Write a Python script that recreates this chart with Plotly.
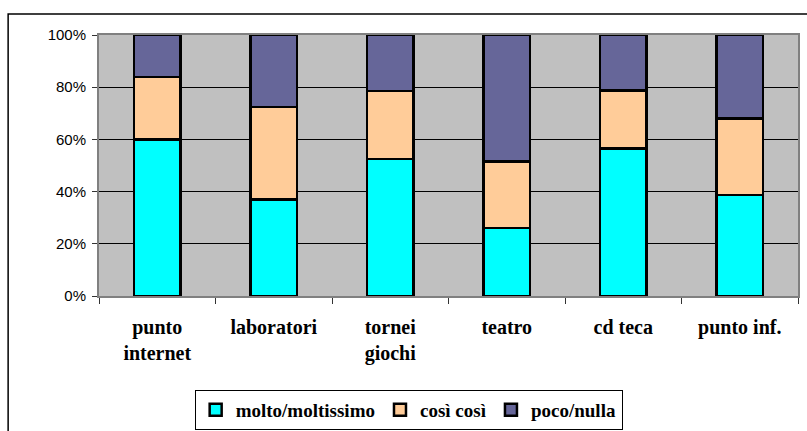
import plotly.graph_objects as go

# --------------------------------------------------------------- #
#### Data ####
# --------------------------------------------------------------- #
categories = ["punto<br>internet", "laboratori", "tornei<br>giochi",
              "teatro", "cd teca", "punto inf."]
molto = [60.0, 37.0, 52.5, 26.0, 56.5, 38.7]
cosi = [24.0, 35.4, 26.0, 25.5, 22.2, 29.4]
poco = [16.0, 27.6, 21.5, 48.5, 21.3, 31.9]

series_names = ["molto/moltissimo", "così così", "poco/nulla"]
series_values = [molto, cosi, poco]
series_colors = ["#00FFFF", "#FFCC99", "#666699"]

y_ticks = [0, 20, 40, 60, 80, 100]
y_labels = ["0%", "20%", "40%", "60%", "80%", "100%"]

# --------------------------------------------------------------- #
#### Figure ####
# --------------------------------------------------------------- #
fig = go.Figure()
for name, vals, col in zip(series_names, series_values, series_colors):
    fig.add_bar(x=categories, y=vals, name=name,
                marker=dict(color=col, line=dict(color="black", width=2.5)))

fig.update_layout(
    barmode="stack",
    bargap=0.6,
    width=807, height=431,
    margin=dict(l=99, r=9, t=35, b=135, autoexpand=False),
    paper_bgcolor="white",
    plot_bgcolor="#C0C0C0",
    showlegend=True,
    legend=dict(orientation="h", x=0.443, xanchor="center",
                y=-0.36, yanchor="top",
                bordercolor="black", borderwidth=1,
                font=dict(family="Liberation Serif", size=19, color="black",
                          weight="bold"),
                itemwidth=30, traceorder="normal"),
    font=dict(family="Liberation Sans", color="black"),
)

fig.update_xaxes(
    tickson="boundaries", ticks="outside", ticklen=6, tickcolor="#333333",
    showgrid=False, showline=True, linecolor="#808080", linewidth=2,
    tickfont=dict(family="Liberation Serif", size=20, color="black",
                  weight="bold"),
    ticklabelstandoff=12, mirror=True, automargin=False,
)
fig.update_yaxes(
    range=[0, 100], tickvals=y_ticks, ticktext=y_labels,
    ticks="outside", ticklen=5, tickcolor="#333333",
    showgrid=True, gridcolor="black", gridwidth=1,
    showline=True, linecolor="#808080", linewidth=2, mirror=True,
    tickfont=dict(family="Liberation Sans", size=15, color="black"),
    ticklabelstandoff=3, zeroline=False, automargin=False,
)

# outer chart-area frame, running off the right and bottom edges
fig.add_shape(type="rect", xref="paper", yref="paper",
              x0=-0.130, x1=1.2, y0=-1.0, y1=1.0805,
              line=dict(color="black", width=1.5), layer="below")

# drop the browser's default page margin so the figure sits at 0,0
fig.write_html("out.html", config={"displayModeBar": False},
               post_script="document.body.style.margin='0';")
